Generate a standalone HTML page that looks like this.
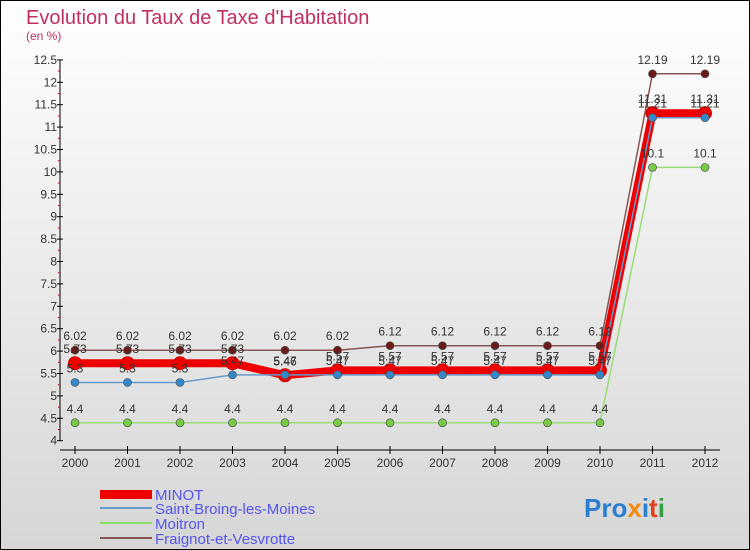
<!DOCTYPE html>
<html><head><meta charset="utf-8"><style>
body{margin:0}
svg{display:block;font-family:"Liberation Sans",sans-serif}
</style></head><body>
<svg id="c" width="750" height="550">
<defs><linearGradient id="bg" x1="0" y1="0" x2="0" y2="1"><stop offset="0" stop-color="#ffffff"/><stop offset="1" stop-color="#d6d6d6"/></linearGradient></defs>
<rect x="0.5" y="0.5" width="749" height="549" fill="url(#bg)" stroke="#000"/>
<text x="26" y="24" font-size="20" fill="#c0305f">Evolution du Taux de Taxe d'Habitation</text>
<text x="26" y="40" font-size="12" fill="#c0305f">(en %)</text>
<g id="axes"></g><g id="series"></g><g id="labels"></g>
<g>
<g><rect x="100" y="490" width="52" height="9" fill="#ee0000"/><text x="155" y="500" font-size="15" fill="#5555ee">MINOT</text></g>
<g><rect x="100" y="507" width="52" height="2" fill="#6699cc"/><text x="155" y="514" font-size="15" fill="#5555ee">Saint-Broing-les-Moines</text></g>
<g><rect x="100" y="522" width="52" height="2" fill="#88dd66"/><text x="155" y="529" font-size="15" fill="#5555ee">Moitron</text></g>
<g><rect x="100" y="537" width="52" height="2" fill="#885555"/><text x="155" y="544" font-size="15" fill="#5555ee">Fraignot-et-Vesvrotte</text></g>
</g>
<text x="584" y="517" font-size="26" font-weight="bold"><tspan fill="#2a7fd0">Pro</tspan><tspan fill="#f08a10">x</tspan><tspan fill="#2a7fd0">i</tspan><tspan fill="#e04020">t</tspan><tspan fill="#30a040">i</tspan></text>
</svg>
<script>
const years=[2000,2001,2002,2003,2004,2005,2006,2007,2008,2009,2010,2011,2012];
const minot=[5.73,5.73,5.73,5.73,5.46,5.57,5.57,5.57,5.57,5.57,5.57,11.31,11.31];
const stBroing=[5.3,5.3,5.3,5.47,5.47,5.47,5.47,5.47,5.47,5.47,5.47,11.21,11.21];
const moitron=[4.4,4.4,4.4,4.4,4.4,4.4,4.4,4.4,4.4,4.4,4.4,10.1,10.1];
const fraignot=[6.02,6.02,6.02,6.02,6.02,6.02,6.12,6.12,6.12,6.12,6.12,12.19,12.19];
const yTicks=[4,4.5,5,5.5,6,6.5,7,7.5,8,8.5,9,9.5,10,10.5,11,11.5,12,12.5];
const NS="http://www.w3.org/2000/svg";
const X=i=>75+i*52.5, Y=v=>440.7-(v-4)*44.8;
function mk(t,a,p){const e=document.createElementNS(NS,t);for(const k in a)e.setAttribute(k,a[k]);p.appendChild(e);return e;}
const ax=document.getElementById('axes');
mk('line',{x1:60,y1:Y(12.5),x2:60,y2:Y(4),stroke:'#000'},ax);
mk('line',{x1:60,y1:450,x2:720,y2:450,stroke:'#000'},ax);
yTicks.forEach(v=>{
 const t=mk('line',{x1:57,x2:63,y1:Y(v),y2:Y(v),stroke:'#000'},ax);
 
 if(v<12.5){mk('line',{x1:58,x2:60,y1:Y(v+0.25),y2:Y(v+0.25),stroke:'#e00'},ax);}
 const l=mk('text',{x:57,y:Y(v)+4,'font-size':12,'text-anchor':'end',fill:'#333'},ax);l.textContent=v;
 
});
years.forEach((y,i)=>{
 mk('line',{x1:X(i),x2:X(i),y1:446,y2:454,stroke:'#000'},ax);
 const l=mk('text',{x:X(i),y:467,'font-size':12,'text-anchor':'middle',fill:'#333'},ax);l.textContent=y;
 
});
const sg=document.getElementById('series'),lg=document.getElementById('labels');
const defs=[[minot,'#ee0000','#ee0000',8,6.5,'minot'],[stBroing,'#6699cc','#3388cc',1.5,4,'saint-broing'],[moitron,'#99dd77','#77cc44',1.5,4,'moitron'],[fraignot,'#885555','#6b1a1a',1.5,4,'fraignot']];
defs.forEach(([d,lc,pc,w,r,n])=>{
 const g=mk('g',{},sg);
 
 const p=mk('polyline',{points:d.map((v,i)=>X(i)+','+Y(v)).join(' '),fill:'none',stroke:lc,'stroke-width':w,'stroke-linejoin':'round'},g);
 
 d.forEach((v,i)=>{
  const c=mk('circle',{cx:X(i),cy:Y(v),r:r,fill:pc,stroke:n=='minot'?'#cc0000':'#555','stroke-width':n=='minot'?1:0.7},g);
  
  const t=mk('text',{x:X(i),y:Y(v)-10,'font-size':12,'text-anchor':'middle',fill:'#333'},lg);t.textContent=v;
  
 });
});
</script>
</body></html>
